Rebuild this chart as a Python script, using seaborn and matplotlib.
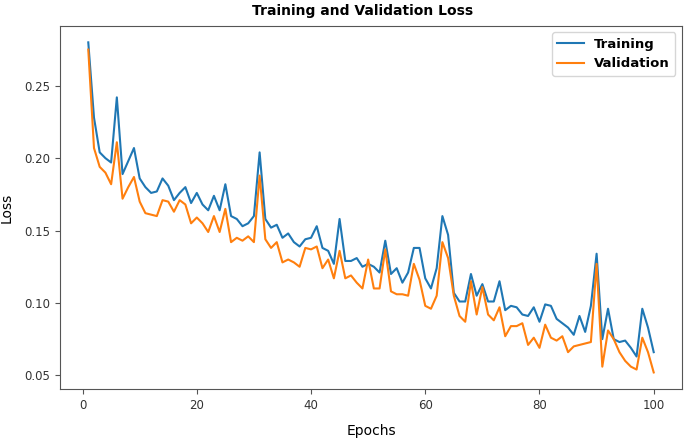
import matplotlib
matplotlib.use("Agg")
import matplotlib.pyplot as plt
import seaborn as sns
import pandas as pd

epochs = list(range(1, 101))
training = [
    0.280, 0.228, 0.204, 0.200, 0.197, 0.242, 0.189, 0.198, 0.207, 0.186,
    0.180, 0.176, 0.177, 0.186, 0.181, 0.171, 0.176, 0.180, 0.169, 0.176,
    0.168, 0.164, 0.174, 0.164, 0.182, 0.160, 0.158, 0.153, 0.155, 0.160,
    0.204, 0.158, 0.152, 0.154, 0.145, 0.148, 0.142, 0.139, 0.144, 0.145,
    0.153, 0.138, 0.136, 0.127, 0.158, 0.129, 0.129, 0.131, 0.125, 0.127,
    0.125, 0.121, 0.143, 0.120, 0.124, 0.114, 0.121, 0.138, 0.138, 0.117,
    0.110, 0.124, 0.160, 0.147, 0.107, 0.101, 0.101, 0.120, 0.105, 0.113,
    0.101, 0.101, 0.115, 0.095, 0.098, 0.097, 0.092, 0.091, 0.097, 0.087,
    0.099, 0.098, 0.089, 0.086, 0.083, 0.078, 0.091, 0.080, 0.098, 0.134,
    0.075, 0.096, 0.075, 0.073, 0.074, 0.069, 0.063, 0.096, 0.083, 0.066,
]
validation = [
    0.275, 0.207, 0.194, 0.190, 0.182, 0.211, 0.172, 0.180, 0.187, 0.170,
    0.162, 0.161, 0.160, 0.171, 0.170, 0.163, 0.171, 0.168, 0.155, 0.159,
    0.155, 0.149, 0.160, 0.149, 0.165, 0.142, 0.145, 0.143, 0.146, 0.142,
    0.188, 0.144, 0.138, 0.142, 0.128, 0.130, 0.128, 0.125, 0.138, 0.137,
    0.139, 0.124, 0.130, 0.117, 0.136, 0.117, 0.119, 0.114, 0.110, 0.130,
    0.110, 0.110, 0.137, 0.108, 0.106, 0.106, 0.105, 0.127, 0.116, 0.098,
    0.096, 0.105, 0.142, 0.131, 0.105, 0.091, 0.087, 0.115, 0.092, 0.111,
    0.092, 0.088, 0.097, 0.077, 0.084, 0.084, 0.086, 0.071, 0.076, 0.069,
    0.085, 0.076, 0.074, 0.077, 0.066, 0.070, 0.071, 0.072, 0.073, 0.127,
    0.056, 0.081, 0.075, 0.066, 0.060, 0.056, 0.054, 0.076, 0.066, 0.052,
]

df = pd.DataFrame({
    "Epochs": epochs * 2,
    "Loss": training + validation,
    "Series": ["Training"] * len(epochs) + ["Validation"] * len(epochs),
})

fig = plt.figure(figsize=(6.85, 4.38), dpi=100)
ax = fig.add_axes([0.0876, 0.112, 0.908, 0.829])
sns.lineplot(data=df, x="Epochs", y="Loss", hue="Series",
             palette=["#1f77b4", "#ff7f0e"], linewidth=1.5, ax=ax)

ax.set_title("Training and Validation Loss", fontsize=10, fontweight="bold",
             pad=8, x=0.487)
ax.set_xlabel("Epochs", fontsize=10, labelpad=9)
ax.set_ylabel("Loss", fontsize=10, labelpad=8)
ax.tick_params(labelsize=8.5)
for s in ax.spines.values():
    s.set_edgecolor("#555555")
ax.tick_params(color="#555555", labelcolor="#333333")
ax.set_xticks([0, 20, 40, 60, 80, 100])
ax.set_yticks([0.05, 0.10, 0.15, 0.20, 0.25])
leg = ax.legend(loc="upper right", prop={"weight": "bold", "size": 9.5})
leg.set_title(None)

fig.savefig("out.png", dpi=100)
